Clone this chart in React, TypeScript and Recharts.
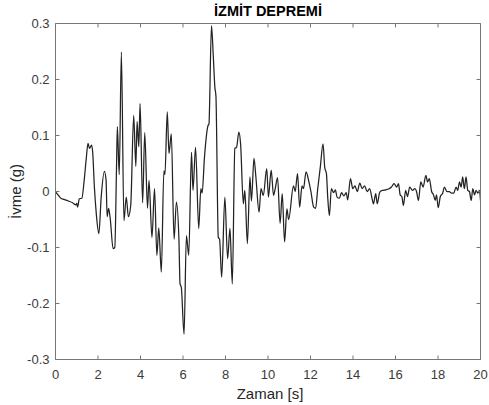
import React from 'react';
import { LineChart, Line, XAxis, YAxis } from 'recharts';

const time = [
  0, 0.12, 0.25, 0.4, 0.6, 0.8, 0.96, 1.0, 1.04, 1.12, 1.24, 1.35, 1.45, 1.53, 1.6, 1.7, 1.75, 1.83, 1.92, 2.04,
  2.15, 2.3, 2.38, 2.43, 2.5, 2.58, 2.71, 2.79, 2.87, 2.91, 3.0, 3.1, 3.22, 3.33, 3.43, 3.54, 3.68, 3.78, 3.84, 3.92,
  3.98, 4.1, 4.2, 4.33, 4.4, 4.54, 4.66, 4.77, 4.86, 4.98, 5.1, 5.15, 5.26, 5.34, 5.45, 5.58, 5.69, 5.81, 5.86, 5.92,
  6.05, 6.16, 6.27, 6.4, 6.47, 6.59, 6.74, 6.84, 6.9, 7.01, 7.18, 7.22, 7.34, 7.42, 7.5, 7.55, 7.66, 7.72, 7.82, 7.97,
  8.1, 8.21, 8.32, 8.44, 8.52, 8.63, 8.71, 8.84, 8.91, 9.03, 9.15, 9.22, 9.34, 9.43, 9.58, 9.67, 9.78, 9.94, 10.02, 10.15,
  10.26, 10.34, 10.45, 10.57, 10.67, 10.78, 10.89, 10.97, 11.2, 11.28, 11.39, 11.49, 11.6, 11.67, 11.79, 11.91, 12.02, 12.15, 12.24, 12.34,
  12.46, 12.59, 12.67, 12.75, 12.81, 12.89, 12.98, 13.09, 13.17, 13.25, 13.36, 13.46, 13.57, 13.68, 13.75, 13.88, 13.99, 14.09, 14.2, 14.32,
  14.43, 14.54, 14.67, 14.78, 14.91, 14.96, 15.07, 15.14, 15.26, 15.38, 15.54, 15.7, 15.81, 15.93, 16.06, 16.14, 16.22, 16.3, 16.37, 16.48,
  16.56, 16.67, 16.8, 16.91, 16.99, 17.08, 17.19, 17.3, 17.43, 17.51, 17.59, 17.7, 17.79, 17.87, 17.93, 18.01, 18.11, 18.22, 18.3, 18.42,
  18.53, 18.64, 18.74, 18.85, 18.93, 19.01, 19.09, 19.16, 19.24, 19.32, 19.4, 19.48, 19.56, 19.64, 19.72, 19.79, 19.87, 19.95, 20,
];

const accel = [
  0, -0.006, -0.012, -0.014, -0.017, -0.02, -0.024, -0.021, -0.028, -0.013, -0.012, 0.02, 0.06, 0.086, 0.077, 0.083, 0.07, 0.008, -0.04, -0.075,
  -0.01, 0.036, 0.02, -0.045, -0.03, -0.05, -0.102, -0.1, 0.04, 0.116, 0.03, 0.249, -0.052, -0.01, -0.045, -0.025, 0.136, 0.045, 0.125, 0.08,
  0.157, -0.02, 0.105, -0.03, 0.02, -0.082, 0.005, -0.114, -0.065, -0.144, 0.037, 0.03, 0.142, 0.068, 0.103, -0.085, -0.019, -0.088, -0.165, -0.171,
  -0.255, -0.079, -0.114, 0.07, 0.002, 0.079, -0.066, 0.005, -0.003, 0.061, 0.118, 0.12, 0.296, 0.246, 0.186, 0.17, -0.082, -0.085, -0.153, -0.01,
  -0.12, -0.066, -0.165, 0.077, 0.079, 0.106, 0.085, -0.022, 0.002, -0.093, 0.026, -0.017, 0.059, 0.026, -0.037, 0.005, -0.007, 0.041, -0.01, 0.038,
  -0.007, 0.005, 0.025, -0.057, -0.004, -0.09, -0.031, -0.05, 0.01, 0, 0.032, -0.028, 0.01, 0.005, 0.035, 0.02, 0, -0.028, -0.03, 0.005,
  0.043, 0.085, 0.043, 0.032, -0.01, -0.043, 0.005, -0.002, 0.003, -0.01, -0.012, -0.002, -0.008, -0.002, -0.015, 0.023, 0.005, 0.01, 0, 0.015,
  0.005, 0.01, 0, 0.005, -0.015, -0.022, -0.004, -0.022, -0.001, 0.002, 0.003, 0.005, 0.008, 0.014, 0.008, 0.014, -0.006, -0.009, -0.025, 0.002,
  -0.009, 0.008, 0.002, 0.005, 0, -0.016, 0.017, 0.008, 0.029, 0.017, 0.023, 0, -0.006, -0.016, -0.006, -0.029, -0.009, -0.003, 0.008, 0,
  0, -0.003, -0.003, 0.008, 0.002, 0.017, 0.008, 0.026, 0.005, 0.026, 0.002, 0, -0.016, 0.005, -0.006, 0.002, -0.003, 0.002, -0.016,
];

const xTicks = [0, 2, 4, 6, 8, 10, 12, 14, 16, 18, 20];
const yTicks = [-0.3, -0.2, -0.1, 0, 0.1, 0.2, 0.3];
const yTickLabels = ['-0.3', '-0.2', '-0.1', '0', '0.1', '0.2', '0.3'];
const title = 'İZMİT DEPREMİ';
const xLabel = 'Zaman [s]';
const yLabel = 'İvme (g)';

const data = time.map((t, i) => ({ t, a: accel[i] }));

const FONT = '"Liberation Sans", Arial, Helvetica, sans-serif';
const AXIS = '#777777';
const TEXT = '#3a3a3a';
const TICK = 4;

const fmtY = (v: number) => {
  const i = yTicks.findIndex((y) => Math.abs(y - v) < 1e-9);
  return i >= 0 ? yTickLabels[i] : String(v);
};

const BottomTick = (p: any) => (
  <g>
    <line x1={p.x} y1={p.y} x2={p.x} y2={p.y - TICK} stroke={AXIS} strokeWidth={1} />
    <text x={p.x} y={p.y + 19} textAnchor="middle" fontFamily={FONT} fontSize={13} fill={TEXT}>
      {p.payload.value}
    </text>
  </g>
);

const TopTick = (p: any) => (
  <line x1={p.x} y1={p.y} x2={p.x} y2={p.y + TICK} stroke={AXIS} strokeWidth={1} />
);

const LeftTick = (p: any) => (
  <g>
    <line x1={p.x} y1={p.y} x2={p.x + TICK} y2={p.y} stroke={AXIS} strokeWidth={1} />
    <text x={p.x - 6} y={p.y + 4.5} textAnchor="end" fontFamily={FONT} fontSize={13} fill={TEXT}>
      {fmtY(p.payload.value)}
    </text>
  </g>
);

const RightTick = (p: any) => (
  <line x1={p.x} y1={p.y} x2={p.x - TICK} y2={p.y} stroke={AXIS} strokeWidth={1} />
);

export default function App() {
  return (
    <div style={{ position: 'absolute', left: 0, top: 0, width: 489, height: 405, background: '#fff' }}>
      <LineChart width={489} height={405} data={data} margin={{ top: 22.5, right: 7.5, left: 0, bottom: 0 }}>
        <XAxis
          dataKey="t"
          type="number"
          domain={[0, 20]}
          ticks={xTicks}
          allowDataOverflow
          height={45.5}
          stroke={AXIS}
          tickSize={0}
          tickMargin={0}
          tick={(p: any) => <BottomTick {...p} />}
          label={(p: any) => {
            const vb = p.viewBox;
            return (
              <text x={vb.x + vb.width / 2 + 2} y={vb.y + 39.5} textAnchor="middle" fontFamily={FONT} fontSize={15} fill="#262626">
                {xLabel}
              </text>
            );
          }}
        />
        <XAxis
          xAxisId="top"
          dataKey="t"
          type="number"
          orientation="top"
          domain={[0, 20]}
          ticks={xTicks}
          allowDataOverflow
          height={1}
          stroke={AXIS}
          tickSize={0}
          tickMargin={0}
          tick={(p: any) => <TopTick {...p} />}
          label={(p: any) => {
            const vb = p.viewBox;
            return (
              <text x={vb.x + vb.width / 2} y={vb.y - 6.5} textAnchor="middle" fontFamily={FONT} fontSize={14.5} fontWeight="bold" fill="#000">
                {title}
              </text>
            );
          }}
        />
        <YAxis
          type="number"
          domain={[-0.3, 0.3]}
          ticks={yTicks}
          allowDataOverflow
          width={55.5}
          stroke={AXIS}
          tickSize={0}
          tickMargin={0}
          tick={(p: any) => <LeftTick {...p} />}
          label={(p: any) => {
            const vb = p.viewBox;
            const cx = 15;
            const cy = vb.y + vb.height / 2;
            return (
              <text
                x={cx}
                y={cy}
                transform={`rotate(-90 ${cx} ${cy})`}
                textAnchor="middle"
                dominantBaseline="central"
                fontFamily={FONT}
                fontSize={15}
                fill="#262626"
              >
                {yLabel}
              </text>
            );
          }}
        />
        <YAxis
          yAxisId="right"
          orientation="right"
          type="number"
          domain={[-0.3, 0.3]}
          ticks={yTicks}
          allowDataOverflow
          width={1}
          stroke={AXIS}
          tickSize={0}
          tickMargin={0}
          tick={(p: any) => <RightTick {...p} />}
        />
        <Line
          dataKey="a"
          type="monotone"
          stroke="#222222"
          strokeWidth={1.25}
          dot={false}
          activeDot={false}
          isAnimationActive={false}
        />
      </LineChart>
    </div>
  );
}
